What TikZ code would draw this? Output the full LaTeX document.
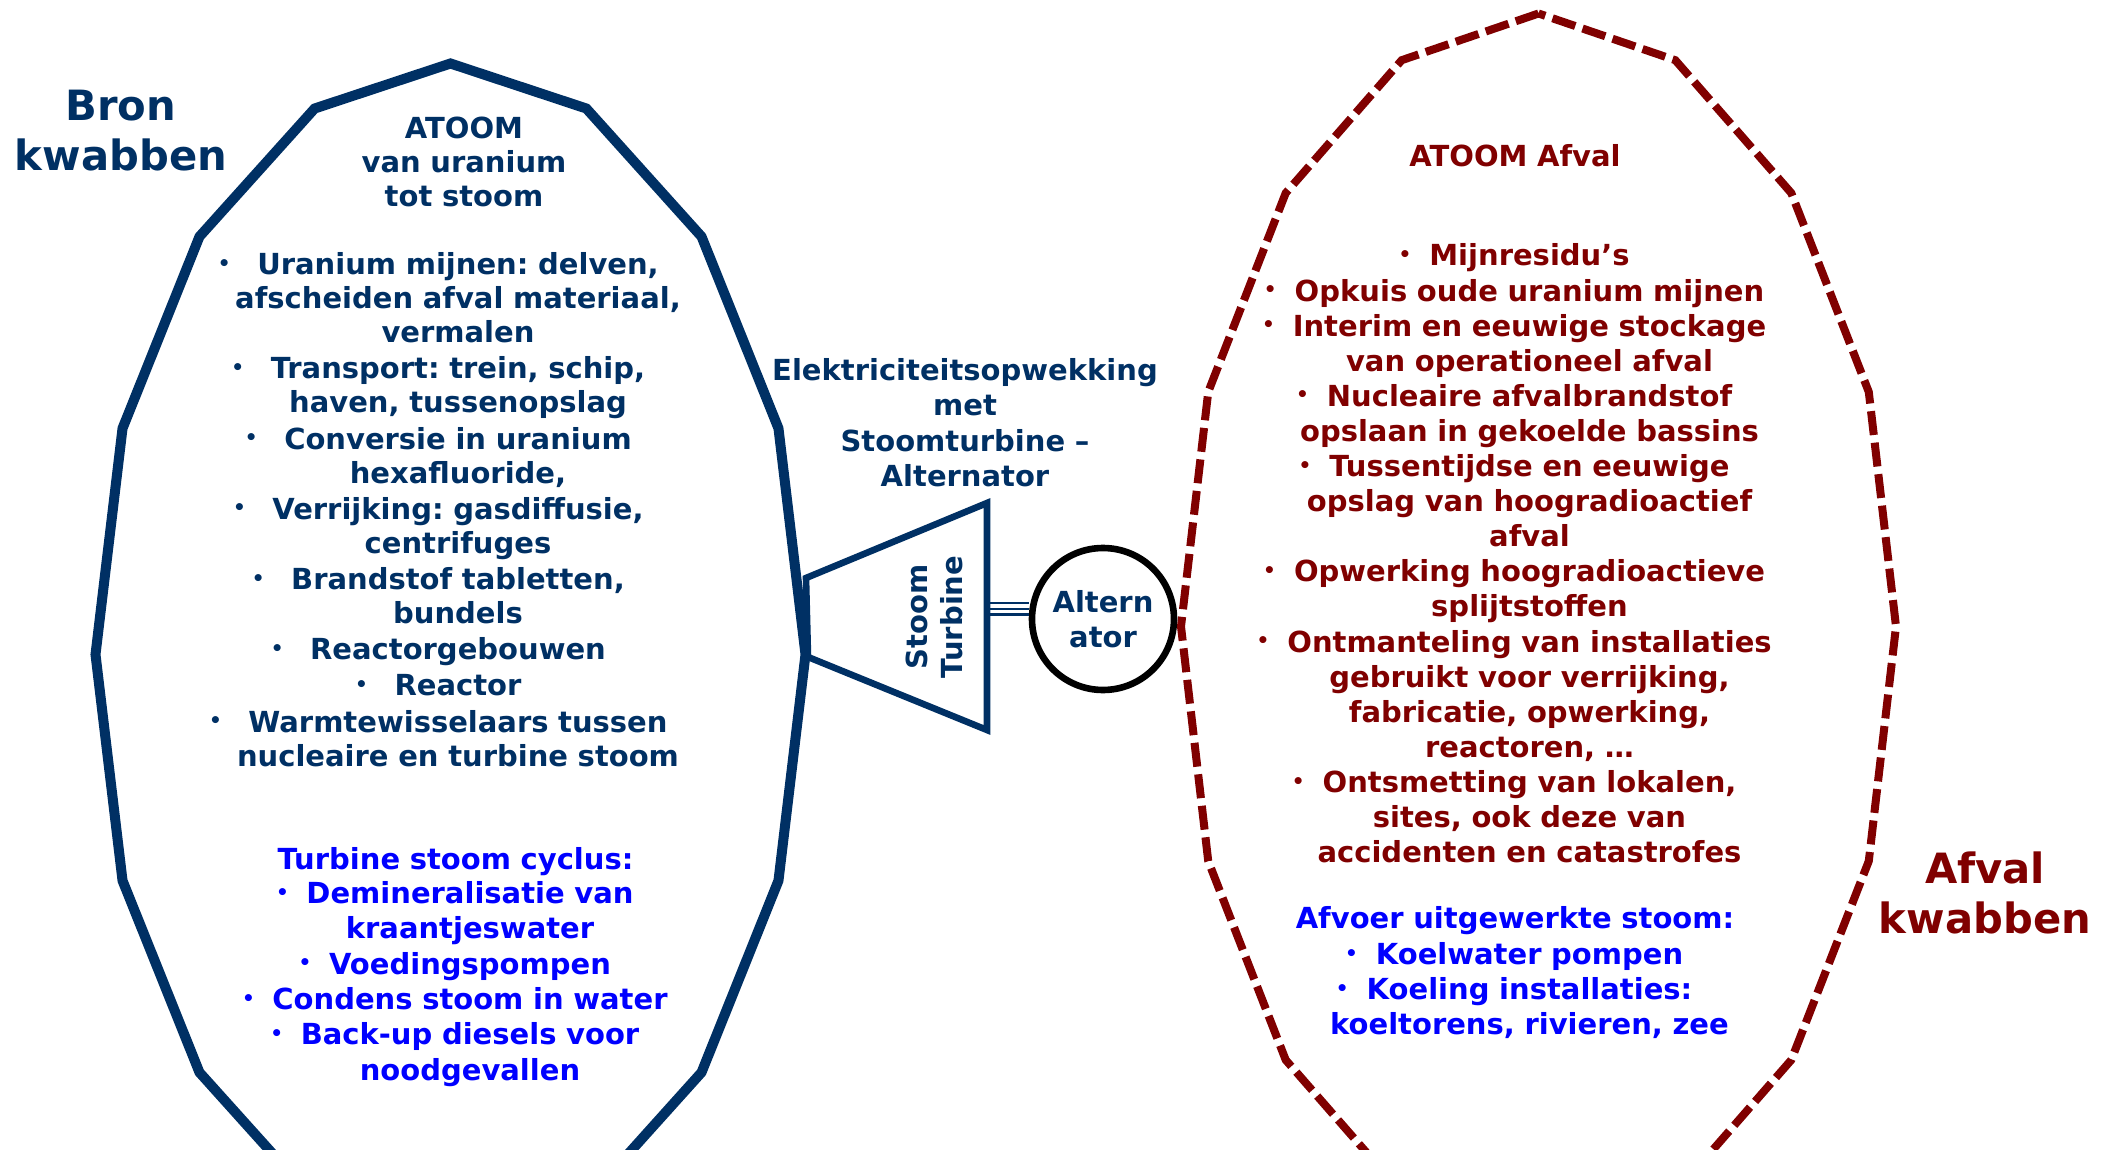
\documentclass[tikz,border=0pt]{standalone}
\usepackage{fontspec}
\setmainfont{DejaVu Sans}
\usetikzlibrary{calc}
\definecolor{bronblue}{RGB}{0,48,100}
\definecolor{afvalred}{RGB}{128,0,0}
\definecolor{stoomblue}{RGB}{0,0,255}
\frenchspacing
\newcommand{\lobefont}[1]{\bfseries\fontsize{14.5pt}{#1}\selectfont}
\newcommand{\bul}[1][9pt]{\leavevmode\llap{\raisebox{2.2pt}{\fontsize{10pt}{10pt}\selectfont\textbullet}\hspace{#1}}}
\begin{document}
\begin{tikzpicture}[x=0.5pt,y=-0.5pt,
		lobetxt/.style={font=\lobefont{#1},inner sep=0pt,anchor=base,text width=280pt,align=center},
		lobetxt/.default=17.5pt,
		kwab/.style={font=\bfseries\fontsize{20.85pt}{25pt}\selectfont,inner sep=0pt,anchor=base,text width=120pt,align=center}]
	\useasboundingbox (0,0) rectangle (2116,1150);
	\clip (0,0) rectangle (2116,1150);
	\draw[bronblue,line width=5pt] plot[samples at={0,...,15}] ({450.5+355*cos(90+22.5*\x)},{654.5-591*sin(90+22.5*\x)}) -- cycle;
	\draw[afvalred,line width=4pt,dash pattern=on 12pt off 3.85pt] plot[samples at={0,...,15}] ({1538.5+357.5*cos(90+22.5*\x)},{626.5-613*sin(90+22.5*\x)}) -- cycle;
	\draw[bronblue,line width=3.3pt] (806,578) -- (987,503) -- (987,730) -- (808,657) -- cycle;
	\coordinate (tbr) at (987,609);
	\node[rotate=90,text=bronblue,font=\lobefont{17.5pt},align=center,inner sep=0pt] (stoom) at (934,617) {Stoom\\Turbine};
	\node[circle,draw=black,line width=3.3pt,minimum size=71pt,inner sep=0pt,text=bronblue,font=\lobefont{17.5pt},align=center] (alt) at (1103,619) {Altern\\ator};
	\coordinate (alw) at (tbr -| alt.west);
	\foreach \dy in {-6,0,5.5}
		\draw[bronblue,line width=1.15pt] ($(tbr)+(0,\dy)$) -- ($(alw)+(0,\dy)$);
	\node[lobetxt=17.8pt,text=bronblue] (elek) at (965,380) {Elektriciteitsopwekking\\met\\Stoomturbine --\\Alternator};
	\node[kwab,text=bronblue] (bron) at (121,120.5) {Bron\\kwabben};
	\node[kwab,text=afvalred] (afval) at (1985,883.5) {Afval\\kwabben};
	\node[lobetxt=17pt,text=bronblue] (atoomL) at (464,138.5) {ATOOM\\van uranium\\tot stoom};
	\node[lobetxt=17pt,text=bronblue] (ketenL) at (458,274.8) {\bul[13.3pt]Uranium mijnen: delven,\\ afscheiden afval materiaal,\\ vermalen\\[1.1pt]
		\bul[13.3pt]Transport: trein, schip,\\ haven, tussenopslag\\[1.1pt]
		\bul[13.3pt]Conversie in uranium\\ hexafluoride,\\[1.1pt]
		\bul[13.3pt]Verrijking: gasdiffusie,\\ centrifuges\\[1.1pt]
		\bul[13.3pt]Brandstof tabletten,\\ bundels\\[1.1pt]
		\bul[13.3pt]Reactorgebouwen\\[1.1pt]
		\bul[13.3pt]Reactor\\[1.1pt]
		\bul[13.3pt]Warmtewisselaars tussen\\ nucleaire en turbine stoom};
	\node[lobetxt=17.65pt,text=stoomblue] (cyclus) at (455.5,869) {Turbine stoom cyclus:};
	\node[lobetxt=17.65pt,text=stoomblue] (cyclusL) at (470,903.5) {\bul[8.8pt]Demineralisatie van\\ kraantjeswater\\
		\bul[8.8pt]Voedingspompen\\
		\bul[8.8pt]Condens stoom in water\\
		\bul[8.8pt]Back-up diesels voor\\ noodgevallen};
	\node[lobetxt=17.55pt,text=afvalred] (atoomR) at (1515,167) {ATOOM Afval};
	\node[lobetxt=17.55pt,text=afvalred] (ketenR) at (1529.5,266) {\bul Mijnresidu’s\\
		\bul Opkuis oude uranium mijnen\\
		\bul Interim en eeuwige stockage\\ van operationeel afval\\
		\bul Nucleaire afvalbrandstof\\ opslaan in gekoelde bassins\\
		\bul Tussentijdse en eeuwige\\ opslag van hoogradioactief\\ afval\\
		\bul Opwerking hoogradioactieve\\ splijtstoffen\\
		\bul Ontmanteling van installaties\\ gebruikt voor verrijking,\\ fabricatie, opwerking,\\ reactoren, …\\
		\bul Ontsmetting van lokalen,\\ sites, ook deze van\\ accidenten en catastrofes};
	\node[lobetxt=17.6pt,text=stoomblue] (afvoer) at (1515,928.7) {Afvoer uitgewerkte stoom:};
	\node[lobetxt=17.6pt,text=stoomblue] (afvoerR) at (1529.5,964.5) {\bul Koelwater pompen\\
		\bul Koeling installaties:\\ koeltorens, rivieren, zee};
\end{tikzpicture}
\end{document}
